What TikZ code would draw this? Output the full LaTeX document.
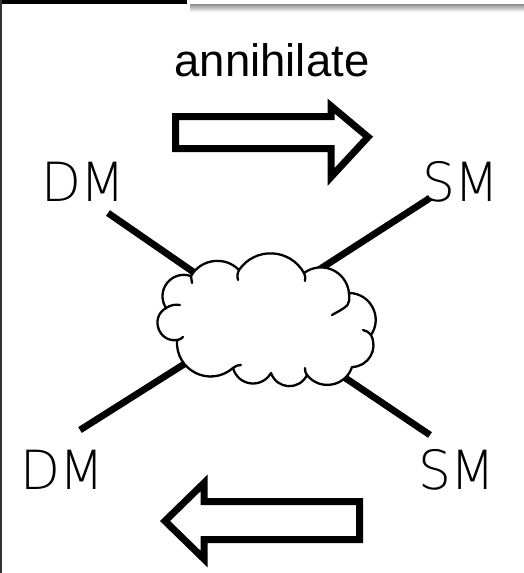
\documentclass[tikz,border=0pt]{standalone}
\usepackage{fontspec}
\usepackage{graphicx}
\setmainfont{Liberation Sans}
\newfontfamily\thinsans{DejaVu Sans ExtraLight}
\newcommand{\particlename}[2]{\scalebox{0.96}[1]{#1\kern-0.5pt#2}}
\begin{document}
\begin{tikzpicture}[x=1pt,y=-1pt,
  particle/.style={font=\thinsans\fontsize{54}{54}\selectfont, inner sep=0pt, anchor=base},
  caption/.style={font=\fontsize{45.5}{45.5}\selectfont, inner sep=0pt, anchor=base},
  leg/.style={line width=6.8pt},
  blockarrow/.style={draw=black, line width=7pt, line join=miter, miter limit=10, fill=white},
  puff/.style={line width=2.3pt, line join=round, line cap=round}]
\fill[white] (0,0) rectangle (524,573);
\useasboundingbox (0,0) rectangle (524,573);

% window frame: dark title strip, soft shadow, left edge
\fill[black] (0,0) rectangle (187,4);
\shade[top color=black!45, bottom color=white] (190,4) rectangle (524,12);
\fill[black!80] (0,0) rectangle (1.5,573);

% caption and process arrows
\node[caption] (label) at (272,76) {annihilate};
\draw[blockarrow] (175.5,116.5) coordinate (fwdtail) -- (331,116.5) -- (331,106)
  -- (368,137) coordinate (fwdtip) -- (331,177) -- (331,148.5) -- (175.5,148.5) -- cycle;
\draw[blockarrow] (359.5,501.5) coordinate (bwdtail) -- (204,501.5) -- (204,483)
  -- (165,521) coordinate (bwdtip) -- (204,559) -- (204,539.5) -- (359.5,539.5) -- cycle;

% particles
\node[particle] (dmin)  at (83.5,201) {\particlename{D}{M}};
\node[particle] (smout) at (461,201) {\particlename{S}{M}};
\node[particle] (dmout) at (62.5,489) {\particlename{D}{M}};
\node[particle] (smin)  at (457,489) {\particlename{S}{M}};

% external legs
\coordinate (tlA) at (108,213); \coordinate (tlB) at (205,280);
\coordinate (trA) at (430,198); \coordinate (trB) at (303,280);
\coordinate (blA) at (80,430);  \coordinate (blB) at (197,356);
\coordinate (brA) at (430,435); \coordinate (brB) at (335,371);
\draw[leg] (tlA) -- (tlB);
\draw[leg] (trA) -- (trB);
\draw[leg] (blA) -- (blB);
\draw[leg] (brA) -- (brB);

% interaction blob
\coordinate (cA) at (191,276);
\coordinate (cB) at (239,270);
\coordinate (cC) at (304,273);
\coordinate (cD) at (349,293);
\coordinate (cE) at (371,335);
\coordinate (cF) at (352,367);
\coordinate (cG) at (307,375);
\coordinate (cH) at (271,373);
\coordinate (cI) at (233,368);
\coordinate (cJ) at (177,340);
\coordinate (cK) at (166,308);
\draw[puff, fill=white]
  (cA) to[bend left=53, looseness=1.06] (cB)
       to[bend left=58, looseness=1.12] (cC)
       to[bend left=60, looseness=1.15] (cD)
       to[bend left=62, looseness=1.16] (cE)
       to[bend left=58, looseness=1.12] (cF)
       to[bend left=62, looseness=1.16] (cG)
       to[bend left=67, looseness=1.25] (cH)
       to[bend left=67, looseness=1.25] (cI)
       to[bend left=67, looseness=1.25] (cJ)
       to[bend left=79, looseness=1.42] (cK)
       to[bend left=70, looseness=1.30] (cA) -- cycle;
% inner curls of the puffs
\draw[puff] (cA) -- ++(1,7);
\draw[puff] (cB) to[bend right=20] ++(-1,10);
\draw[puff] (cC) to[bend left=20] ++(1,8);
\draw[puff] (cD) .. controls (350,305) .. (332,315);
\draw[puff] (cE) to[bend right=20] ++(-8,-5);
\draw[puff] (cG) to[bend left=20] ++(-2,-7);
\draw[puff] (cI) to[bend left=20] ++(8,-3);
\draw[puff] (cJ) to[bend right=20] ++(6,-3);
\draw[puff] (cK) to[bend left=20] ++(14,-3);
\end{tikzpicture}
\end{document}
